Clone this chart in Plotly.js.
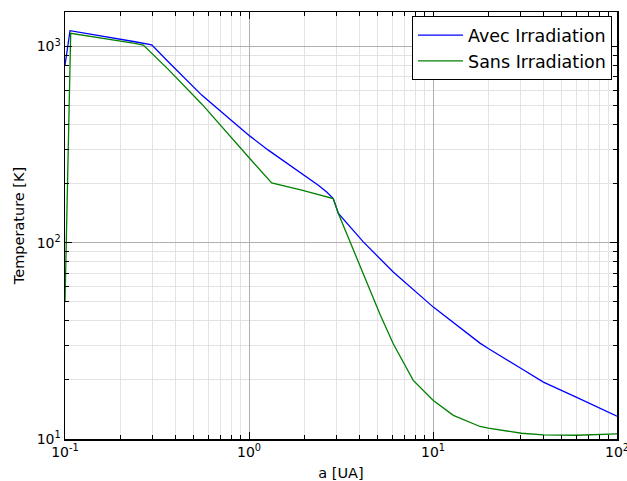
<!DOCTYPE html>
<html>
<head>
<meta charset="utf-8">
<script src="https://cdn.plot.ly/plotly-3.0.1.min.js"></script>
<style>html,body{margin:0;padding:0;background:#fff;}#chart{width:627px;height:481px;}</style>
</head>
<body>
<div id="chart"></div>
<script>
// a [UA] and Temperature [K]
const avecA = [0.1, 0.1065, 0.2401, 0.296, 0.3641, 0.5533, 0.8392, 1.0126, 1.273, 1.569, 1.934, 2.381, 2.644, 2.87, 3.06, 4.18, 6.08, 10.04, 18.0, 19.98, 30.3, 39.8, 60.4, 100];
const avecT = [804, 1204, 1058, 1021, 836, 565.6, 405.6, 349.5, 296.5, 258.4, 227, 196.6, 181.6, 168, 141, 101, 71.0, 47.0, 30.8, 28.9, 22.8, 19.5, 16.3, 13.07];
const sansA = [0.1, 0.1074, 0.2401, 0.2664, 0.3641, 0.5533, 1.0126, 1.328, 1.934, 2.87, 3.06, 4.18, 5.15, 6.08, 7.81, 10.04, 12.9, 18.0, 19.98, 30.3, 39.8, 60.4, 100];
const sansT = [49.7, 1168, 1038, 1018, 765, 510, 268, 202, 185.3, 168, 141, 69.7, 43.2, 30.6, 19.9, 15.7, 13.2, 11.58, 11.35, 10.7, 10.5, 10.45, 10.63];

const xMajorVals = [0.1, 1, 10, 100];
const xMajorText = ['10<sup>-1</sup>', '10<sup>0</sup>', '10<sup>1</sup>', '10<sup>2</sup>'];
const yMajorVals = [10, 100, 1000];
const yMajorText = ['10<sup>1</sup>', '10<sup>2</sup>', '10<sup>3</sup>'];
const xMinorVals = [0.2,0.3,0.4,0.5,0.6,0.7,0.8,0.9,2,3,4,5,6,7,8,9,20,30,40,50,60,70,80,90];
const yMinorVals = [20,30,40,50,60,70,80,90,200,300,400,500,600,700,800,900,2000];

const titleFont = {family: 'DejaVu Sans, sans-serif', size: 14.5, color: '#000'};

const traces = [
  {x: avecA, y: avecT, type: 'scatter', mode: 'lines', name: 'Avec Irradiation',
   line: {color: '#0000ff', width: 1.3}},
  {x: sansA, y: sansT, type: 'scatter', mode: 'lines', name: 'Sans Irradiation',
   line: {color: '#008000', width: 1.3}}
];

const axisCommon = {
  type: 'log', showline: true, linecolor: '#000', linewidth: 1.5, mirror: 'allticks',
  ticks: 'inside', ticklen: 7, tickwidth: 1, tickcolor: '#000',
  showgrid: true, gridcolor: '#b0b0b0', gridwidth: 1, zeroline: false,
  tickmode: 'array', ticklabeloverflow: 'allow',
  tickfont: {family: 'DejaVu Sans, sans-serif', size: 14, color: '#000'}
};

const layout = {
  width: 627, height: 481,
  margin: {l: 65, r: 10, t: 12, b: 42},
  paper_bgcolor: '#fff', plot_bgcolor: '#fff',
  font: titleFont,
  showlegend: true,
  legend: {x: 0.991, y: 0.99, xanchor: 'right', yanchor: 'top',
           bgcolor: '#fff', bordercolor: '#000', borderwidth: 1, itemwidth: 45,
           font: {family: 'DejaVu Sans, sans-serif', size: 17.5, color: '#000'}},
  xaxis: Object.assign({}, axisCommon, {
    range: [-1, 2], tickvals: xMajorVals, ticktext: xMajorText,
    minor: {tickmode: 'array', tickvals: xMinorVals, ticks: 'inside', ticklen: 4, tickcolor: '#000',
            showgrid: true, gridcolor: '#e3e3e3', gridwidth: 1},
    title: {text: 'a [UA]', font: titleFont, standoff: 8}
  }),
  yaxis: Object.assign({}, axisCommon, {
    range: [1, Math.log10(1500)], tickvals: yMajorVals, ticktext: yMajorText,
    minor: {tickmode: 'array', tickvals: yMinorVals, ticks: 'inside', ticklen: 4, tickcolor: '#000',
            showgrid: true, gridcolor: '#e3e3e3', gridwidth: 1},
    title: {text: 'Temperature [K]', font: titleFont, standoff: 8}
  })
};

Plotly.newPlot('chart', traces, layout, {displayModeBar: false, staticPlot: true});
</script>
</body>
</html>
